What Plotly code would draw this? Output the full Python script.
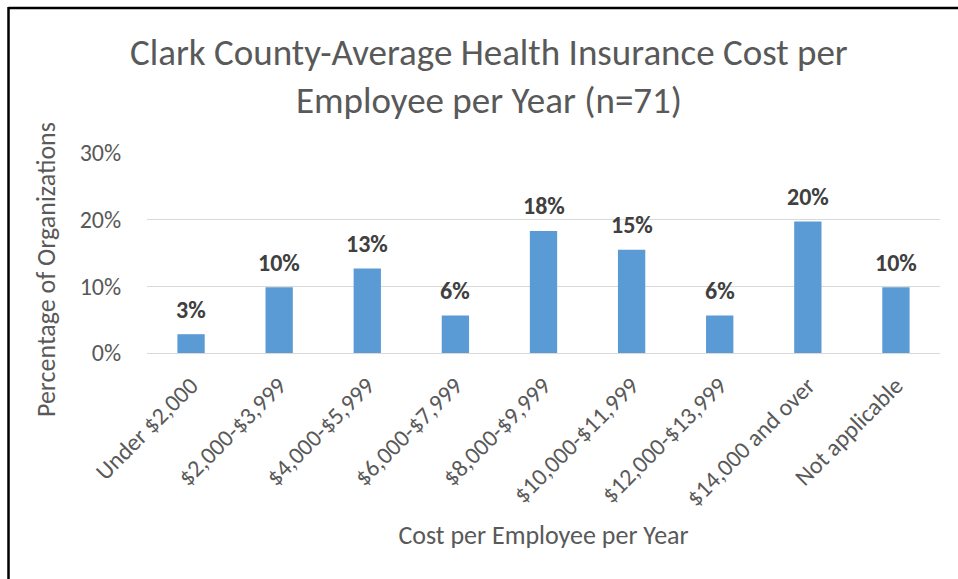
import plotly.graph_objects as go

# Survey results (n=71): share of organizations in each cost bracket
categories = [
    "Under $2,000", "$2,000-$3,999", "$4,000-$5,999", "$6,000-$7,999",
    "$8,000-$9,999", "$10,000-$11,999", "$12,000-$13,999",
    "$14,000 and over", "Not applicable",
]
percent_values = [2.82, 9.86, 12.68, 5.63, 18.31, 15.49, 5.63, 19.72, 9.86]
y_tick_values = [0, 10, 20, 30]
y_tick_labels = ["0%", "10%", "20%", "30%"]

title_lines = [
    "Clark County-Average Health Insurance Cost per",
    "Employee per Year (n=71)",
]
x_title = "Cost per Employee per Year"
y_title = "Percentage of Organizations"

FONT = "Carlito, Lato, 'Open Sans', sans-serif"
GREY = "#595959"

W, H = 958, 579
L, R, T, B = 147, 18, 153, 226
plot_w = W - L - R
plot_h = H - T - B


def px_to_paper_x(px):
    return (px - L) / plot_w


def px_to_paper_y(py):
    return (H - B - py) / plot_h


fig = go.Figure(
    go.Bar(
        x=categories,
        y=percent_values,
        marker=dict(color="#5B9BD5", line=dict(width=0)),
        hoverinfo="x+y",
    )
)

# value labels above each bar
annotations = [
    dict(
        x=c, y=v, xref="x", yref="y",
        text=f"<b>{v:.0f}%</b>",
        showarrow=False, yshift=25, yanchor="middle",
        font=dict(family=FONT, size=24, color="#404040"),
    )
    for c, v in zip(categories, percent_values)
]

# two-line chart title
for line, ypix in zip(title_lines, [52, 100]):
    annotations.append(
        dict(
            x=px_to_paper_x(489), y=px_to_paper_y(ypix),
            xref="paper", yref="paper",
            text=line, showarrow=False, xanchor="center", yanchor="middle",
            font=dict(family=FONT, size=37, color=GREY),
        )
    )

# vertical axis title
annotations.append(
    dict(
        x=px_to_paper_x(46), y=px_to_paper_y(269),
        xref="paper", yref="paper",
        text=y_title, textangle=-90, showarrow=False,
        xanchor="center", yanchor="middle",
        font=dict(family=FONT, size=26, color=GREY),
    )
)

fig.update_layout(
    width=W, height=H,
    margin=dict(l=L, r=R, t=T, b=B, autoexpand=False),
    paper_bgcolor="white",
    plot_bgcolor="white",
    bargap=0.69,
    showlegend=False,
    annotations=annotations,
    font=dict(family=FONT, color=GREY),
    shapes=[
        # chart frame (top and left edges)
        dict(type="line", xref="paper", yref="paper",
             x0=px_to_paper_x(8.5), x1=px_to_paper_x(958),
             y0=px_to_paper_y(8), y1=px_to_paper_y(8),
             line=dict(color="black", width=2.5)),
        dict(type="line", xref="paper", yref="paper",
             x0=px_to_paper_x(8.5), x1=px_to_paper_x(8.5),
             y0=px_to_paper_y(7), y1=px_to_paper_y(580),
             line=dict(color="black", width=2.5)),
    ],
)

fig.update_xaxes(
    tickangle=-45,
    tickfont=dict(family=FONT, size=24, color=GREY),
    ticks="outside", ticklen=8, tickcolor="rgba(0,0,0,0)",
    showline=True, linecolor="#D9D9D9", linewidth=1,
    showgrid=False,
    title=dict(text=x_title,
               font=dict(family=FONT, size=26, color=GREY), standoff=15),
)

fig.update_yaxes(
    range=[0, 30],
    tickvals=y_tick_values, ticktext=y_tick_labels,
    tickfont=dict(family=FONT, size=24, color=GREY),
    ticks="outside", ticklen=20, tickcolor="rgba(0,0,0,0)",
    showgrid=True, gridcolor="#D9D9D9", gridwidth=1,
    zeroline=False, showline=False,
)

fig.write_html("out.html")
